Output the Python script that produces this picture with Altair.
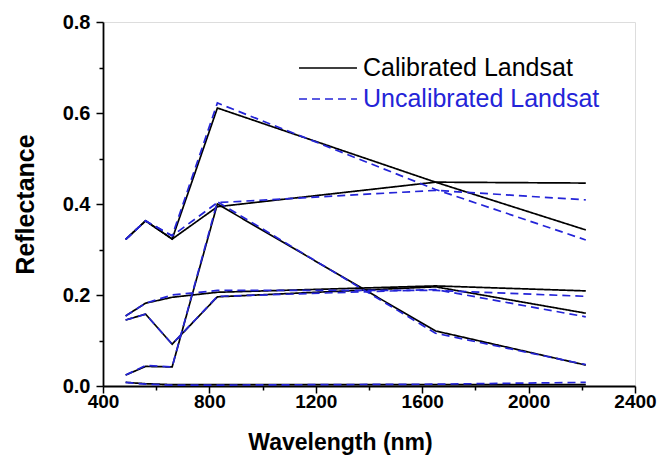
import altair as alt
import pandas as pd

# Landsat band centres (nm)
bands = [485, 560, 660, 830, 1650, 2215]

# Calibrated Landsat reflectance (solid black)
cal_a = [0.322, 0.363, 0.323, 0.611, 0.448, 0.343]
cal_b = [0.322, 0.363, 0.323, 0.394, 0.448, 0.446]
cal_c = [0.154, 0.182, 0.195, 0.206, 0.220, 0.209]
cal_d = [0.145, 0.158, 0.092, 0.196, 0.218, 0.160]
cal_e = [0.024, 0.043, 0.042, 0.400, 0.121, 0.046]
cal_f = [0.008, 0.005, 0.003, 0.003, 0.003, 0.003]

# Uncalibrated Landsat reflectance (dashed blue)
unc_a = [0.322, 0.363, 0.330, 0.622, 0.432, 0.321]
unc_b = [0.322, 0.363, 0.330, 0.403, 0.430, 0.409]
unc_c = [0.154, 0.182, 0.200, 0.210, 0.210, 0.197]
unc_d = [0.145, 0.158, 0.092, 0.197, 0.212, 0.152]
unc_e = [0.024, 0.045, 0.042, 0.405, 0.116, 0.047]
unc_f = [0.008, 0.004, 0.002, 0.002, 0.004, 0.008]

series_names = ["Calibrated Landsat", "Uncalibrated Landsat"]
cal_curves = [cal_a, cal_b, cal_c, cal_d, cal_e, cal_f]
unc_curves = [unc_a, unc_b, unc_c, unc_d, unc_e, unc_f]

x_ticks = [400, 600, 800, 1000, 1200, 1400, 1600, 1800, 2000, 2200, 2400]
y_ticks = [0.0, 0.1, 0.2, 0.3, 0.4, 0.5, 0.6, 0.7, 0.8]

rows = []
order = 0
for name, curves in zip(series_names, [cal_curves, unc_curves]):
    for ci, vals in enumerate(curves):
        for w, v in zip(bands, vals):
            rows.append({"series": name, "curve": f"{name}-{ci}", "wl": w,
                         "refl": v, "ord": order})
        order += 1
df = pd.DataFrame(rows)

FONT = "Liberation Sans"
BLUE = "#2424d8"


def make_legend():
    return alt.Legend(title=None, orient="none", legendX=195, legendY=33,
                      symbolType="stroke", symbolSize=3360,
                      symbolStrokeWidth=1.6, labelFont=FONT,
                      labelFontSize=25, labelOffset=5, rowPadding=5,
                      clipHeight=26, labelLimit=0,
                      labelColor={"expr": "datum.label === 'Uncalibrated Landsat' ? '" + BLUE + "' : 'black'"})


chart = alt.Chart(df).mark_line(strokeWidth=1.7).encode(
    x=alt.X("wl:Q", scale=alt.Scale(domain=[400, 2400], nice=False, zero=False),
            axis=alt.Axis(title="Wavelength (nm)", values=x_ticks, format="d",
                          labelExpr="datum.value % 400 === 0 ? datum.label : ''",
                          tickSize={"condition": {"test": "datum.value % 400 === 0", "value": 7}, "value": 4},
                          grid=False, domainColor="black", domainWidth=1.8,
                          tickColor="black", tickWidth=1.5, labelFlush=False,
                          labelFont=FONT, labelFontSize=19, labelFontWeight="bold",
                          labelColor="black", labelPadding=-1,
                          titleFont=FONT, titleFontSize=23, titleFontWeight="bold",
                          titleColor="black", titleX=237, titleAlign="center",
                          titleY=56, titleBaseline="middle")),
    y=alt.Y("refl:Q", scale=alt.Scale(domain=[0, 0.8], nice=False),
            axis=alt.Axis(title="Reflectance", values=y_ticks,
                          labelExpr="round(datum.value*10) % 2 === 0 ? format(datum.value, '.1f') : ''",
                          tickSize={"condition": {"test": "round(datum.value*10) % 2 === 0", "value": 7}, "value": 4},
                          grid=False, domainColor="black", domainWidth=1.8,
                          tickColor="black", tickWidth=1.5, labelFlush=False,
                          labelFont=FONT, labelFontSize=20, labelFontWeight="bold",
                          labelColor="black", labelPadding=6,
                          titleFont=FONT, titleFontSize=25, titleFontWeight="bold",
                          titleColor="black", titleX=-78, titleBaseline="middle")),
    color=alt.Color("series:N",
                    scale=alt.Scale(domain=series_names, range=["black", BLUE]),
                    legend=make_legend()),
    strokeDash=alt.StrokeDash("series:N",
                              scale=alt.Scale(domain=series_names, range=[[1, 0], [8, 5]]),
                              legend=make_legend()),
    detail="curve:N",
    order="ord:Q",
).properties(
    width=532, height=364,
    autosize=alt.AutoSizeParams(type="none"),
    padding={"left": 103, "top": 22, "right": 27, "bottom": 72},
).configure_view(stroke=None).configure(background="white")

chart.save("out.html", embed_options={"renderer": "svg", "actions": False})
